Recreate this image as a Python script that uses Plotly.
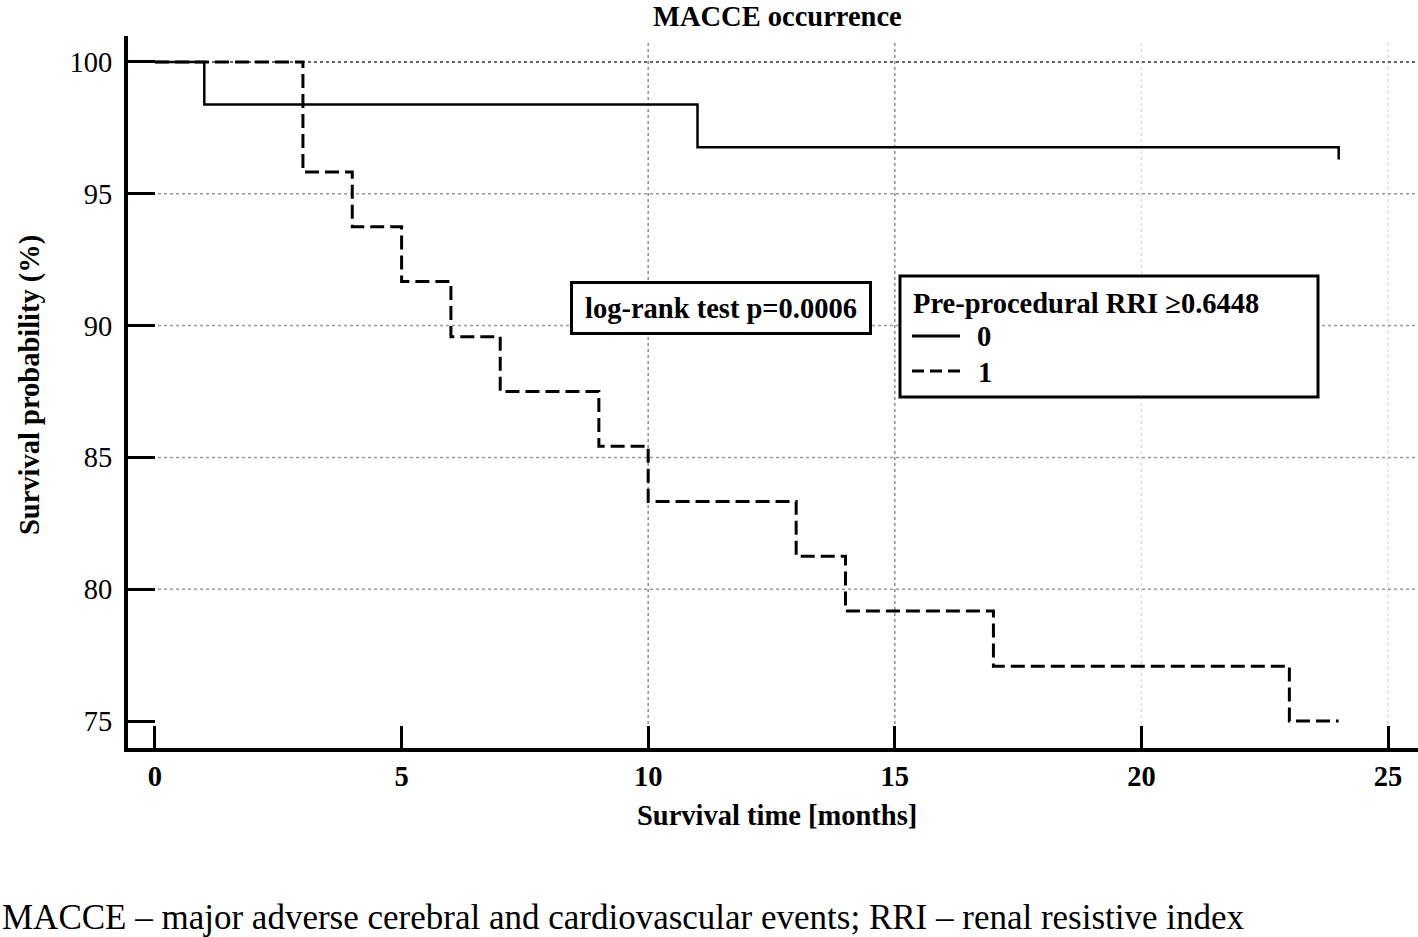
import plotly.graph_objects as go

# ---- data ----
time_g0 = [0, 1, 11, 24, 24]
surv_g0 = [100.0, 98.39, 96.77, 96.77, 96.3]
time_g1 = [0, 3, 4, 5, 6, 7, 9, 10, 13, 14, 17, 23, 24]
surv_g1 = [100.0, 95.83, 93.75, 91.67, 89.58, 87.5, 85.42, 83.33, 81.25, 79.17, 77.08, 75.0, 75.0]
group_labels = ["0", "1"]
x_ticks = [0, 5, 10, 15, 20, 25]
y_ticks = [75, 80, 85, 90, 95, 100]
x_grid = [10, 15, 20, 25]
y_grid = [80, 85, 90, 95, 100]
title_text = "MACCE occurrence"
x_title = "Survival time [months]"
y_title = "Survival probability (%)"
legend_title = "Pre-procedural RRI ≥0.6448"
test_text = "log-rank test p=0.0006"
caption = "MACCE – major adverse cerebral and cardiovascular events; RRI – renal resistive index"

SERIF = "Liberation Serif, Times New Roman, serif"
FS = 28.5

# plot-area geometry in pixels (for paper-coordinate helpers)
L, R, T, B = 128, 1418, 36, 748
PW, PH = R - L, B - T


def px(xp):
    return (xp - L) / PW


def py(yp):
    return (B - yp) / PH


fig = go.Figure()
fig.add_trace(go.Scatter(x=time_g0, y=surv_g0, mode="lines", line_shape="hv",
                         line=dict(color="black", width=2.5), name=group_labels[0]))
fig.add_trace(go.Scatter(x=time_g1, y=surv_g1, mode="lines", line_shape="hv",
                         line=dict(color="black", width=3, dash="14px,6px"), name=group_labels[1]))

shapes = []
vgrid_colors = {10: "#8a8a8a", 15: "#8a8a8a", 20: "#dddddd", 25: "#dddddd"}
for gx in x_grid:
    shapes.append(dict(type="line", xref="x", yref="paper", x0=gx, x1=gx, y0=0, y1=py(40),
                       line=dict(color=vgrid_colors[gx], width=1.5, dash="dot"), layer="below"))
for gy in y_grid:
    col = "#333333" if gy == 100 else "#9a9a9a"
    shapes.append(dict(type="line", xref="paper", yref="y", x0=0, x1=1, y0=gy, y1=gy,
                       line=dict(color=col, width=1.5, dash="dot"), layer="below"))
# legend frame
shapes.append(dict(type="rect", xref="paper", yref="paper",
                   x0=px(900), x1=px(1318), y0=py(397), y1=py(276),
                   line=dict(color="black", width=3), fillcolor="white", layer="above"))
# legend samples
shapes.append(dict(type="line", xref="paper", yref="paper", x0=px(912), x1=px(960),
                   y0=py(336), y1=py(336), line=dict(color="black", width=3), layer="above"))
shapes.append(dict(type="line", xref="paper", yref="paper", x0=px(912), x1=px(960),
                   y0=py(371), y1=py(371), line=dict(color="black", width=3, dash="12px,6px"),
                   layer="above"))

font = dict(family=SERIF, size=FS, color="black")
annotations = [
    dict(text="<b>" + title_text + "</b>", xref="paper", yref="paper",
         x=px(777), y=py(16), showarrow=False, font=font, xanchor="center", yanchor="middle"),
    dict(text="<b>" + x_title + "</b>", xref="paper", yref="paper",
         x=px(777), y=py(815), showarrow=False, font=font, xanchor="center", yanchor="middle"),
    dict(text="<b>" + y_title + "</b>", xref="paper", yref="paper",
         x=px(30), y=py(385), showarrow=False, textangle=-90, font=font,
         xanchor="center", yanchor="middle"),
    dict(text="<b>" + test_text + "</b>", xref="paper", yref="paper",
         x=px(721), y=py(307.5), showarrow=False, font=font, xanchor="center", yanchor="middle",
         bordercolor="black", borderwidth=3, borderpad=2, bgcolor="white", width=292, height=44),
    dict(text="<b>" + legend_title + "</b>", xref="paper", yref="paper",
         x=px(911), y=py(303), showarrow=False, font=font, xanchor="left", yanchor="middle"),
    dict(text="<b>" + group_labels[0] + "</b>", xref="paper", yref="paper",
         x=px(975), y=py(337), showarrow=False, font=font, xanchor="left", yanchor="middle"),
    dict(text="<b>" + group_labels[1] + "</b>", xref="paper", yref="paper",
         x=px(976), y=py(372), showarrow=False, font=font, xanchor="left", yanchor="middle"),
    dict(text=caption, xref="paper", yref="paper",
         x=px(0), y=py(917), showarrow=False,
         font=dict(family=SERIF, size=35, color="black"), xanchor="left", yanchor="middle"),
]

fig.update_layout(
    width=1418, height=937, autosize=False,
    margin=dict(l=L, r=1418 - R, t=T, b=937 - B),
    plot_bgcolor="white", paper_bgcolor="white",
    shapes=shapes, annotations=annotations,
    showlegend=False,
    xaxis=dict(range=[-0.547, 25.608], tickvals=x_ticks, ticktext=["<b>%d</b>" % v for v in x_ticks],
               showgrid=False, zeroline=False, showline=True, linecolor="black", linewidth=4,
               ticks="inside", ticklen=22, tickwidth=3, tickcolor="black",
               tickfont=font, ticklabelstandoff=0),
    yaxis=dict(range=[73.976, 100.986], tickvals=y_ticks, ticktext=[str(v) for v in y_ticks],
               showgrid=False, zeroline=False, showline=True, linecolor="black", linewidth=4,
               ticks="inside", ticklen=27, tickwidth=3, tickcolor="black",
               tickfont=font, ticklabelstandoff=6),
)

fig.write_html("out.html", config={"displayModeBar": False},
               post_script="document.body.style.margin='0';document.body.style.overflow='hidden';")
